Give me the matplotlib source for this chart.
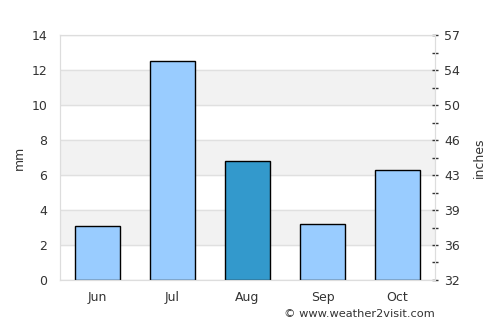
import matplotlib
matplotlib.use("Agg")
import matplotlib.pyplot as plt
import numpy as np

months = ["Jun", "Jul", "Aug", "Sep", "Oct"]
rain_mm = [3.1, 12.5, 6.8, 3.2, 6.3]
bar_colors = ["#99ccff", "#99ccff", "#3399cc", "#99ccff", "#99ccff"]
left_ticks = [0, 2, 4, 6, 8, 10, 12, 14]
right_labels = ["32", "36", "39", "43", "46", "50", "54", "57"]

txt = "#333333"
fig = plt.figure(figsize=(5, 3.25), dpi=100)
ax = fig.add_axes([0.12, 0.1385, 0.75, 0.7535])

# shaded bands and grid
for lo in [2, 6, 10]:
    ax.axhspan(lo, lo + 2, color="#f2f2f2", zorder=0)
for y in left_ticks:
    ax.axhline(y, color="#e0e0e0", lw=1, zorder=1)

x = np.arange(len(months))
ax.bar(x, rain_mm, width=0.6, color=bar_colors, edgecolor="black", lw=1, zorder=3)

ax.set_xlim(-0.5, len(months) - 0.5)
ax.set_ylim(0, 14)
ax.set_yticks(left_ticks)
ax.set_xticks(x)
ax.set_xticklabels(months)
ax.tick_params(axis="both", length=0, colors=txt, labelsize=9, pad=9)
ax.tick_params(axis="x", pad=8)
ax.set_ylabel("mm", color=txt, fontsize=9, labelpad=4)
for s in ax.spines.values():
    s.set_color("#dddddd")

ax2 = ax.twinx()
ax2.set_ylim(0, 14)
ax2.set_yticks(left_ticks)
ax2.set_yticklabels(right_labels)
ax2.set_yticks(np.arange(1, 14, 2), minor=True)
ax2.tick_params(axis="y", which="both", direction="inout", length=5, width=1,
                color=txt, colors=txt, labelsize=9, pad=4)
ax2.set_ylabel("inches", color=txt, fontsize=9, labelpad=9)
for s in ax2.spines.values():
    s.set_color("#dddddd")

fig.text(0.87, 0.035, "© www.weather2visit.com", ha="right", va="center",
         color=txt, fontsize=8.2)

fig.savefig("out.png", dpi=100)
